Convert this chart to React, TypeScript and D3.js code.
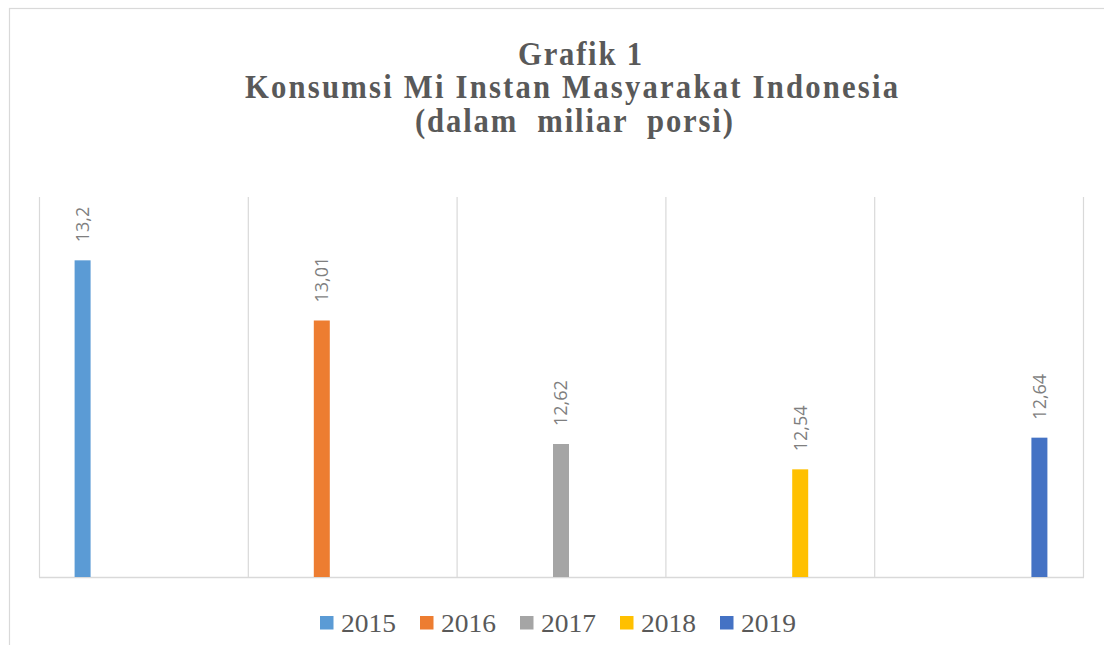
import React from "react";
import * as d3 from "d3";

const categories = ["A", "B", "C", "D", "E"];
const seriesNames = ["2015", "2016", "2017", "2018", "2019"];
const seriesValues = [13.2, 13.01, 12.62, 12.54, 12.64];
const valueLabels = ["13,2", "13,01", "12,62", "12,54", "12,64"];
const seriesColors = ["#5B9BD5", "#ED7D31", "#A5A5A5", "#FFC000", "#4472C4"];
const titleLines = ["Grafik 1", "Konsumsi Mi Instan Masyarakat Indonesia", "(dalam  miliar  porsi)"];

const W = 1104;
const H = 645;
const plot = { left: 39, right: 1083, top: 197, bottom: 577 };

export default function App() {
  const x0 = d3.scaleBand<string>().domain(categories).range([plot.left, plot.right]).padding(0);
  const x1 = d3
    .scaleBand<string>()
    .domain(seriesNames)
    .range([0, x0.bandwidth()])
    .paddingInner(0.474)
    .paddingOuter(1.171);
  const y = d3.scaleLinear().domain([12.2, 13.4]).range([plot.bottom, plot.top]);

  const gridXs = categories.map((c) => x0(c) as number).concat([plot.right]);

  const titleY = [65, 98, 132];
  const titleW = [124, 653, 318];
  const titleCx = [580, 571.5, 574];
  const sx = 0.93;

  const legendX0 = 320;
  const legendStep = 100;

  return (
    <svg
      width={W}
      height={H}
      style={{ position: "absolute", left: 0, top: 0, background: "#fff" }}
    >
      <rect x={0} y={0} width={W} height={H} fill="#fff" />
      <rect x={9.5} y={8.5} width={1200} height={800} fill="#fff" stroke="#d9d9d9" strokeWidth={1.2} />
      {titleLines.map((t, i) => (
        <g key={i} transform={`translate(${titleCx[i]},${titleY[i]}) scale(${sx},1)`}>
          <text
            x={0}
            y={0}
            textAnchor="middle"
            fontFamily="'Liberation Serif', 'Times New Roman', serif"
            fontWeight="bold"
            fontSize={33}
            fill="#595959"
            textLength={titleW[i] / sx}
            lengthAdjust="spacing"
            style={{ whiteSpace: "pre" }}
          >
            {t}
          </text>
        </g>
      ))}
      {gridXs.map((gx, i) => (
        <line key={i} x1={gx + 0.5} x2={gx + 0.5} y1={plot.top} y2={plot.bottom} stroke="#d9d9d9" strokeWidth={1.2} />
      ))}
      <line x1={plot.left} x2={plot.right + 1} y1={plot.bottom + 0.5} y2={plot.bottom + 0.5} stroke="#d9d9d9" strokeWidth={1.4} />
      {seriesNames.map((s, i) => {
        const bx = (x0(categories[i]) as number) + (x1(s) as number);
        const by = y(seriesValues[i]);
        const cx = bx + x1.bandwidth() / 2;
        return (
          <g key={s}>
            <rect x={bx} y={by} width={x1.bandwidth()} height={plot.bottom - by} fill={seriesColors[i]} />
            <text
              transform={`translate(${cx},${by - 18}) rotate(-90)`}
              dy="0.36em"
              fontFamily="'Open Sans', 'Liberation Sans', Arial, sans-serif"
              fontSize={18}
              fill="#7f7f7f"
            >
              {valueLabels[i]}
            </text>
          </g>
        );
      })}
      {seriesNames.map((s, i) => {
        const lx = legendX0 + i * legendStep;
        return (
          <g key={"l" + s}>
            <rect x={lx} y={616} width={13.5} height={13.5} fill={seriesColors[i]} />
            <text
              x={lx + 21}
              y={632}
              fontFamily="'Liberation Serif', 'Times New Roman', serif"
              fontSize={26}
              fill="#595959"
              textLength={55}
              lengthAdjust="spacingAndGlyphs"
            >
              {s}
            </text>
          </g>
        );
      })}
    </svg>
  );
}
